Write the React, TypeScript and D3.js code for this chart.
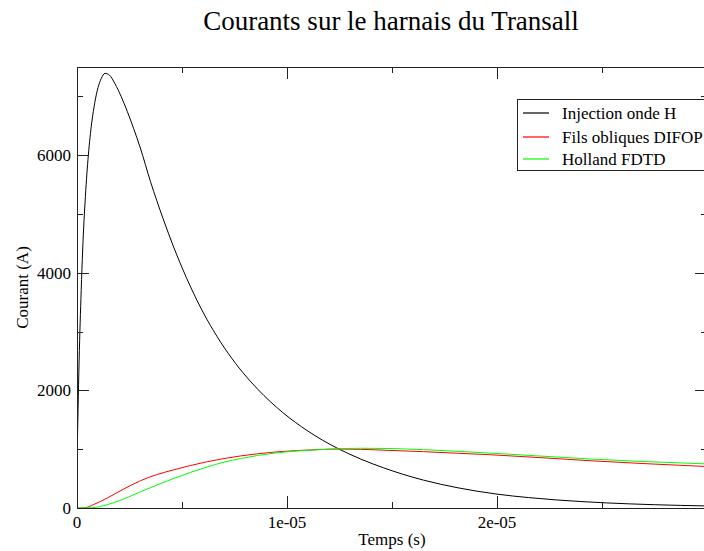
import React from "react";
import * as d3 from "d3";

// Injection onde H (time in microseconds, current in A)
const injTime = [0, 0.1, 0.2, 0.27, 0.4, 0.54, 0.7, 0.85, 1.0, 1.15, 1.33, 1.55, 1.8, 2.1, 2.4, 2.7, 3.0, 3.5, 4.1, 4.6, 5.2, 5.9, 6.5, 7.2, 7.9, 8.6, 9.8, 11.0, 12.4, 13.5, 14.6, 15.5, 16.5, 18.1, 20, 21.5, 22.8, 25.2, 27.5, 30];
const injValue = [740, 2500, 3700, 4390, 5300, 6000, 6550, 6900, 7150, 7300, 7392, 7360, 7220, 7000, 6740, 6450, 6140, 5550, 4920, 4440, 3925, 3400, 3015, 2630, 2302, 2022, 1623, 1307, 1016, 834, 683, 576, 474, 346, 236, 177, 138, 87, 56, 35];

// Fils obliques DIFOP
const difTime = [0, 0.3, 0.8, 1.44, 2.2, 3.03, 3.8, 4.62, 5.4, 6.2, 7.0, 7.8, 8.6, 9.38, 10.5, 11.6, 12.4, 13.5, 14.9, 16.5, 18, 19.67, 22, 24.43, 27, 30];
const difValue = [0, 0, 60, 170, 318, 465, 568, 650, 722, 787, 841, 886, 922, 950, 977, 995, 1003, 998, 979, 958, 933, 906, 858, 804, 755, 705];

// Holland FDTD
const holTime = [0, 0.7, 1.44, 2.2, 3.03, 3.8, 4.62, 5.4, 6.2, 7.0, 7.8, 8.6, 9.38, 10.5, 11.6, 12.4, 13.5, 14.8, 16.5, 18, 19.67, 22, 24.43, 27, 30];
const holValue = [0, 5, 56, 150, 277, 390, 505, 605, 698, 780, 842, 893, 932, 970, 993, 1006, 1016, 1012, 992, 966, 934, 885, 833, 790, 750];

const seriesNames = ["Injection onde H", "Fils obliques DIFOP", "Holland FDTD"];
const seriesColors = ["#000000", "#ff0000", "#00ff00"];

const xMajorTicks = [0, 1e-5, 2e-5, 3e-5];
const xTickLabels = ["0", "1e-05", "2e-05"];
const xMinorTicks = [5e-6, 1.5e-5, 2.5e-5];
const yMajorTicks = [0, 2000, 4000, 6000];
const yMinorTicks = [1000, 3000, 5000, 7000];

const W = 704;
const H = 551;
const left = 77;
const right = 707;
const top = 67;
const bottom = 508;
const font = "'Liberation Serif', 'Times New Roman', serif";

export default function App() {
  const x = d3.scaleLinear().domain([0, 3e-5]).range([left, right]);
  const y = d3.scaleLinear().domain([0, 7500]).range([bottom, top]);

  const line = d3
    .line<[number, number]>()
    .x(d => x(d[0] * 1e-6))
    .y(d => y(d[1]))
    .curve(d3.curveMonotoneX);

  const series = [
    d3.zip(injTime, injValue) as [number, number][],
    d3.zip(difTime, difValue) as [number, number][],
    d3.zip(holTime, holValue) as [number, number][],
  ];

  const legX = 517;
  const legY = 99;
  const rowY = [113, 137, 159];

  return (
    <svg width={W} height={H} style={{ position: "absolute", left: 0, top: 0, background: "#fff" }} fontFamily={font}>
      <text x={391} y={30} textAnchor="middle" fontSize={27}>
        Courants sur le harnais du Transall
      </text>

      <defs>
        <clipPath id="plot">
          <rect x={left} y={top} width={right - left} height={bottom - top} />
        </clipPath>
      </defs>

      <g clipPath="url(#plot)" fill="none" strokeWidth={1}>
        {series.map((s, i) => (
          <path key={i} d={line(s) || ""} stroke={seriesColors[i]} />
        ))}
      </g>

      {/* frame */}
      <rect x={left + 0.5} y={top + 0.5} width={right - left} height={bottom - top} fill="none" stroke="#222" strokeWidth={1} />

      {/* ticks on all four sides, pointing inward */}
      <g stroke="#222" strokeWidth={1}>
        {xMajorTicks.map(t => (
          <g key={"xM" + t}>
            <line x1={Math.round(x(t)) + 0.5} x2={Math.round(x(t)) + 0.5} y1={bottom} y2={bottom - 12} />
            <line x1={Math.round(x(t)) + 0.5} x2={Math.round(x(t)) + 0.5} y1={top} y2={top + 12} />
          </g>
        ))}
        {xMinorTicks.map(t => (
          <g key={"xm" + t}>
            <line x1={Math.round(x(t)) + 0.5} x2={Math.round(x(t)) + 0.5} y1={bottom} y2={bottom - 6} />
            <line x1={Math.round(x(t)) + 0.5} x2={Math.round(x(t)) + 0.5} y1={top} y2={top + 6} />
          </g>
        ))}
        {yMajorTicks.map(v => (
          <g key={"yM" + v}>
            <line x1={left} x2={left + 12} y1={Math.round(y(v)) + 0.5} y2={Math.round(y(v)) + 0.5} />
            <line x1={right} x2={right - 12} y1={Math.round(y(v)) + 0.5} y2={Math.round(y(v)) + 0.5} />
          </g>
        ))}
        {yMinorTicks.map(v => (
          <g key={"ym" + v}>
            <line x1={left} x2={left + 6} y1={Math.round(y(v)) + 0.5} y2={Math.round(y(v)) + 0.5} />
            <line x1={right} x2={right - 6} y1={Math.round(y(v)) + 0.5} y2={Math.round(y(v)) + 0.5} />
          </g>
        ))}
      </g>

      <g fontSize={17} fill="#000">
        {xTickLabels.map((lab, i) => (
          <text key={"xl" + lab} x={x(xMajorTicks[i])} y={528} textAnchor="middle">
            {lab}
          </text>
        ))}
        {yMajorTicks.map(v => (
          <text key={"yl" + v} x={left - 6} y={y(v) + 6} textAnchor="end">
            {d3.format("d")(v)}
          </text>
        ))}
        <text x={392} y={545} textAnchor="middle">
          Temps (s)
        </text>
        <text transform={`translate(28,${(top + bottom) / 2}) rotate(-90)`} textAnchor="middle">
          Courant (A)
        </text>
      </g>

      {/* legend */}
      <rect x={legX + 0.5} y={legY + 0.5} width={220} height={71} fill="#fff" stroke="#222" strokeWidth={1} />
      {seriesNames.map((n, i) => (
        <g key={n}>
          <line x1={523} x2={549} y1={rowY[i]} y2={rowY[i]} stroke={seriesColors[i]} strokeWidth={1.2} />
          <text x={562} y={rowY[i] + 6} fontSize={17} fill="#000">
            {n}
          </text>
        </g>
      ))}
    </svg>
  );
}
